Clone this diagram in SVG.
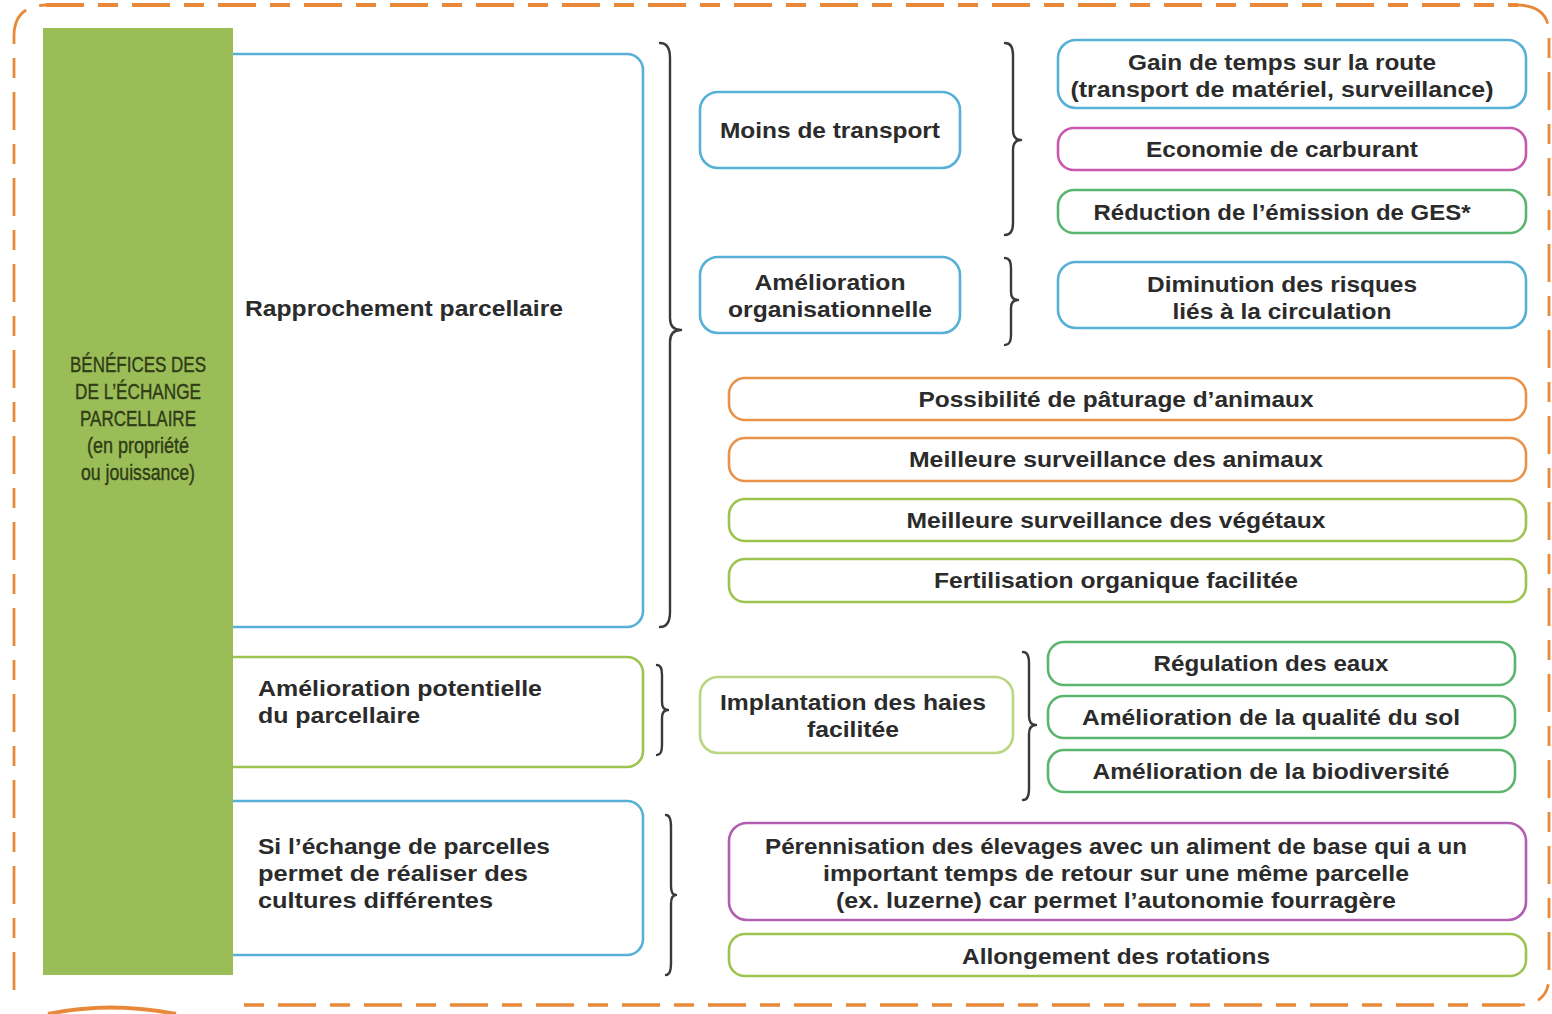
<svg xmlns="http://www.w3.org/2000/svg" width="1552" height="1014" viewBox="0 0 1552 1014">
<style>
.t{font-family:"Liberation Sans",Arial,sans-serif;font-weight:bold;font-size:22px;fill:#2b2b2b}
.c{text-anchor:middle}
.box{fill:#fff;stroke-width:2.6}
.blue{stroke:#57b0d5}
.lg{stroke:#9cc44f}
.mg{stroke:#5cb56e}
.or{stroke:#e8924a}
.pk{stroke:#c857ad}
.pu{stroke:#b25fb2}
.br{fill:none;stroke:#3a3a3a;stroke-width:2.4;stroke-linecap:round;stroke-linejoin:round}
.side{font-family:"Liberation Sans",Arial,sans-serif;font-size:22px;fill:#2f3c16;stroke:#2f3c16;stroke-width:0.4;text-anchor:middle}
.dash{fill:none;stroke:#e8893a;stroke-dasharray:38 14 20 14}
</style>
<rect width="1552" height="1014" fill="#fff"/>
<g id="frame">
<path class="dash" stroke-width="2.8" d="M14,990 L14,36 Q14,6 46,5"/>
<path class="dash" stroke-width="4" d="M46,5 L1518,5"/>
<path class="dash" stroke-width="2.8" d="M1518,5 Q1548,6 1549,32 L1549,978 Q1548,1004 1520,1005"/>
<path class="dash" stroke-width="3.4" d="M1520,1005 L233,1005"/>
<path d="M48,1014 Q110,1001 176,1014" fill="none" stroke="#e8893a" stroke-width="4"/>
</g>
<g id="rapprochement">
<rect class="box blue" x="200" y="54" width="443" height="573" rx="16"/>
<text class="t" x="245" y="316" textLength="318" lengthAdjust="spacingAndGlyphs">Rapprochement parcellaire</text>
</g>
<g id="amelioration-potentielle">
<rect class="box lg" x="200" y="657" width="443" height="110" rx="16"/>
<text class="t" x="258" y="696" textLength="284" lengthAdjust="spacingAndGlyphs">Amélioration potentielle</text>
<text class="t" x="258" y="723" textLength="162" lengthAdjust="spacingAndGlyphs">du parcellaire</text>
</g>
<g id="cultures">
<rect class="box blue" x="200" y="801" width="443" height="154" rx="16"/>
<text class="t" x="258" y="854" textLength="292" lengthAdjust="spacingAndGlyphs">Si l’échange de parcelles</text>
<text class="t" x="258" y="881" textLength="270" lengthAdjust="spacingAndGlyphs">permet de réaliser des</text>
<text class="t" x="258" y="908" textLength="235" lengthAdjust="spacingAndGlyphs">cultures différentes</text>
</g>
<g id="benefices">
<rect x="43" y="28" width="190" height="947" fill="#9bbd58"/>
<text class="side" x="138" y="372" textLength="136" lengthAdjust="spacingAndGlyphs">BÉNÉFICES DES</text>
<text class="side" x="138" y="399" textLength="126" lengthAdjust="spacingAndGlyphs">DE L’ÉCHANGE</text>
<text class="side" x="138" y="426" textLength="116" lengthAdjust="spacingAndGlyphs">PARCELLAIRE</text>
<text class="side" x="138" y="453" textLength="102" lengthAdjust="spacingAndGlyphs">(en propriété</text>
<text class="side" x="138" y="480" textLength="114" lengthAdjust="spacingAndGlyphs">ou jouissance)</text>
</g>
<g id="moins-transport">
<rect class="box blue" x="700" y="92" width="260" height="76" rx="18"/>
<text class="t c" x="830" y="138" textLength="220" lengthAdjust="spacingAndGlyphs">Moins de transport</text>
</g>
<g id="amelioration-org">
<rect class="box blue" x="700" y="257" width="260" height="76" rx="18"/>
<text class="t c" x="830" y="290" textLength="151" lengthAdjust="spacingAndGlyphs">Amélioration</text>
<text class="t c" x="830" y="317" textLength="204" lengthAdjust="spacingAndGlyphs">organisationnelle</text>
</g>
<g id="haies">
<rect class="box lg" x="700" y="677" width="313" height="76" rx="18" stroke-opacity="0.7"/>
<text class="t c" x="853" y="710" textLength="266" lengthAdjust="spacingAndGlyphs">Implantation des haies</text>
<text class="t c" x="853" y="737" textLength="92" lengthAdjust="spacingAndGlyphs">facilitée</text>
</g>
<g id="gain-temps">
<rect class="box blue" x="1058" y="40" width="468" height="68" rx="18"/>
<text class="t c" x="1282" y="70" textLength="308" lengthAdjust="spacingAndGlyphs">Gain de temps sur la route</text>
<text class="t c" x="1282" y="97" textLength="423" lengthAdjust="spacingAndGlyphs">(transport de matériel, surveillance)</text>
</g>
<g id="carburant">
<rect class="box pk" x="1058" y="128" width="468" height="42" rx="16"/>
<text class="t c" x="1282" y="157" textLength="272" lengthAdjust="spacingAndGlyphs">Economie de carburant</text>
</g>
<g id="ges">
<rect class="box mg" x="1058" y="190" width="468" height="43" rx="16"/>
<text class="t c" x="1282" y="220" textLength="377" lengthAdjust="spacingAndGlyphs">Réduction de l’émission de GES*</text>
</g>
<g id="risques">
<rect class="box blue" x="1058" y="262" width="468" height="66" rx="18"/>
<text class="t c" x="1282" y="292" textLength="270" lengthAdjust="spacingAndGlyphs">Diminution des risques</text>
<text class="t c" x="1282" y="319" textLength="219" lengthAdjust="spacingAndGlyphs">liés à la circulation</text>
</g>
<g id="paturage">
<rect class="box or" x="729" y="378" width="797" height="42" rx="16"/>
<text class="t c" x="1116" y="407" textLength="395" lengthAdjust="spacingAndGlyphs">Possibilité de pâturage d’animaux</text>
</g>
<g id="surv-animaux">
<rect class="box or" x="729" y="438" width="797" height="43" rx="16"/>
<text class="t c" x="1116" y="467" textLength="414" lengthAdjust="spacingAndGlyphs">Meilleure surveillance des animaux</text>
</g>
<g id="surv-vegetaux">
<rect class="box lg" x="729" y="499" width="797" height="42" rx="16"/>
<text class="t c" x="1116" y="528" textLength="419" lengthAdjust="spacingAndGlyphs">Meilleure surveillance des végétaux</text>
</g>
<g id="fertilisation">
<rect class="box lg" x="729" y="559" width="797" height="43" rx="16"/>
<text class="t c" x="1116" y="588" textLength="364" lengthAdjust="spacingAndGlyphs">Fertilisation organique facilitée</text>
</g>
<g id="eaux">
<rect class="box mg" x="1048" y="642" width="467" height="43" rx="16"/>
<text class="t c" x="1271" y="671" textLength="235" lengthAdjust="spacingAndGlyphs">Régulation des eaux</text>
</g>
<g id="sol">
<rect class="box mg" x="1048" y="696" width="467" height="42" rx="16"/>
<text class="t c" x="1271" y="725" textLength="378" lengthAdjust="spacingAndGlyphs">Amélioration de la qualité du sol</text>
</g>
<g id="biodiversite">
<rect class="box mg" x="1048" y="750" width="467" height="42" rx="16"/>
<text class="t c" x="1271" y="779" textLength="357" lengthAdjust="spacingAndGlyphs">Amélioration de la biodiversité</text>
</g>
<g id="perennisation">
<rect class="box pu" x="729" y="823" width="797" height="97" rx="18"/>
<text class="t c" x="1116" y="854" textLength="702" lengthAdjust="spacingAndGlyphs">Pérennisation des élevages avec un aliment de base qui a un</text>
<text class="t c" x="1116" y="881" textLength="586" lengthAdjust="spacingAndGlyphs">important temps de retour sur une même parcelle</text>
<text class="t c" x="1116" y="908" textLength="560" lengthAdjust="spacingAndGlyphs">(ex. luzerne) car permet l’autonomie fourragère</text>
</g>
<g id="rotations">
<rect class="box lg" x="729" y="934" width="797" height="42" rx="16"/>
<text class="t c" x="1116" y="964" textLength="308" lengthAdjust="spacingAndGlyphs">Allongement des rotations</text>
</g>
<g id="connectors">
<path class="br" stroke-width="3.2" d="M660,43 Q670,43 670,58 L670,318 Q670,330 681,330 Q670,330 670,342 L670,612 Q670,627 660,627"/>
<path class="br" d="M657,665 Q662,665 662,675 L662,702 Q662,710 668,710 Q662,710 662,718 L662,745 Q662,755 657,755"/>
<path class="br" d="M666,815 Q671,815 671,827 L671,886 Q671,895 676,895 Q671,895 671,904 L671,963 Q671,975 666,975"/>
<path class="br" d="M1005,43 Q1013,43 1013,55 L1013,130 Q1013,140 1021,140 Q1013,140 1013,150 L1013,223 Q1013,235 1005,235"/>
<path class="br" d="M1005,258 Q1011,258 1011,268 L1011,292 Q1011,300 1018,300 Q1011,300 1011,308 L1011,335 Q1011,345 1005,345"/>
<path class="br" d="M1023,652 Q1029,652 1029,663 L1029,716 Q1029,725 1036,725 Q1029,725 1029,734 L1029,789 Q1029,800 1023,800"/>
</g>
</svg>
